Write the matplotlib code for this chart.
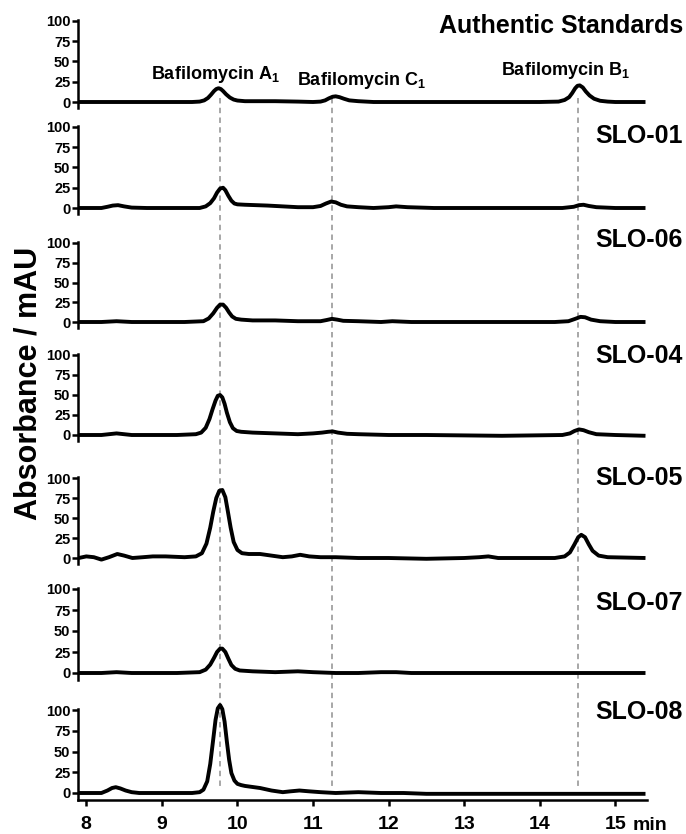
#!/usr/bin/python
"""Stacked HPLC traces: authentic bafilomycin standards vs SLO extracts."""
import matplotlib
matplotlib.use('Agg')
from matplotlib import pyplot as plt

plt.rcParams['font.family'] = ['Liberation Sans', 'DejaVu Sans']
plt.rcParams['font.weight'] = 'bold'
plt.rcParams['mathtext.fontset'] = 'custom'
plt.rcParams['mathtext.rm'] = 'Liberation Sans:bold'
plt.rcParams['mathtext.default'] = 'rm'

# ---- data (time in min, absorbance in mAU) ----
PANEL_NAMES = ['Authentic Standards', 'SLO-01', 'SLO-06', 'SLO-04',
               'SLO-05', 'SLO-07', 'SLO-08']

STD_TIME = [7.9, 8.5, 9.0, 9.4, 9.5, 9.56, 9.61, 9.65, 9.69, 9.72, 9.75, 9.78,
            9.81, 9.85, 9.9, 9.95, 10.0, 10.1, 10.5, 10.8, 11.0, 11.1, 11.16,
            11.21, 11.26, 11.3, 11.35, 11.41, 11.48, 11.6, 11.8, 12.5, 13.2,
            14.0, 14.25, 14.33, 14.39, 14.43, 14.47, 14.5, 14.53, 14.57, 14.61,
            14.66, 14.72, 14.8, 14.9, 15.0, 15.4]
STD_ABS = [0, 0, 0, 0, 0.5, 2, 5, 9, 13.5, 16, 17, 16,
           13.5, 9.5, 5.5, 3, 1.8, 1, 1, 0.5, 0, 0.5, 2,
           4.5, 6.5, 7, 6, 4, 2, 1, 0, 0, 0,
           0, 0.5, 2.5, 6, 11, 17, 20, 20.5, 18, 13,
           8, 4, 1.5, 0.5, 0, 0]

SLO01_TIME = [7.9, 8.2, 8.28, 8.35, 8.42, 8.5, 8.6, 8.8, 9.2, 9.5, 9.58, 9.64,
              9.69, 9.73, 9.77, 9.81, 9.84, 9.88, 9.92, 9.96, 10.0, 10.1, 10.4,
              10.8, 11.0, 11.1, 11.17, 11.24, 11.3, 11.37, 11.45, 11.6, 11.8,
              12.0, 12.1, 12.25, 12.6, 13.5, 14.3, 14.45, 14.52, 14.58, 14.65,
              14.75, 15.0, 15.4]
SLO01_ABS = [0, 0, 1.5, 3, 3.5, 2, 0.5, 0, 0, 0, 2, 6,
             12, 19, 24, 25, 22, 15, 9, 5.5, 4.5, 4, 3,
             1, 1, 2.5, 5.5, 8, 7, 4, 2, 1, 0,
             1, 2, 1, 0, 0, 0, 1.5, 3.5, 4, 2.5,
             1, 0, 0]

SLO06_TIME = [7.9, 8.2, 8.4, 8.6, 9.3, 9.55, 9.62, 9.68, 9.73, 9.77, 9.81,
              9.85, 9.89, 9.93, 9.98, 10.05, 10.2, 10.5, 10.8, 11.1, 11.18,
              11.25, 11.32, 11.4, 11.6, 11.9, 12.05, 12.3, 13.0, 14.2, 14.38,
              14.47, 14.54, 14.6, 14.68, 14.8, 15.0, 15.4]
SLO06_ABS = [0, 0, 1, 0, 0, 1, 4.5, 11, 18, 22, 22, 18,
             12, 7, 4, 3, 2, 2, 1, 1, 2.5,
             4, 3, 1.5, 1, 0, 1, 0, 0, 0, 1,
             4, 6.5, 6, 3, 1, 0, 0]

SLO04_TIME = [7.9, 8.2, 8.4, 8.6, 9.2, 9.45, 9.52, 9.58, 9.63, 9.67, 9.71,
              9.74, 9.77, 9.8, 9.83, 9.86, 9.9, 9.94, 9.99, 10.05, 10.2, 10.5,
              10.8, 11.0, 11.12, 11.2, 11.26, 11.33, 11.45, 11.6, 12.0, 12.5,
              13.5, 14.3, 14.4, 14.46, 14.52, 14.58, 14.65, 14.75, 15.0, 15.4]
SLO04_ABS = [0, 0, 2, 0, 0, 1, 3, 9, 20, 32, 43, 49, 50, 47, 39, 28,
             16, 8.5, 5, 4, 3, 2,
             1, 2, 3, 4, 4.5, 3, 1.5, 1, 0, 0,
             -1, 0, 2, 5, 7, 6, 3.5, 1, 0, -1]

SLO05_TIME = [7.9, 8.0, 8.1, 8.2, 8.3, 8.41, 8.5, 8.61, 8.75, 8.88, 9.05, 9.3,
              9.45, 9.53, 9.59, 9.64, 9.68, 9.72, 9.76, 9.8, 9.84, 9.87, 9.91,
              9.95, 10.0, 10.06, 10.15, 10.3, 10.45, 10.6, 10.72, 10.83, 10.95,
              11.1, 11.3, 11.6, 12.0, 12.5, 13.0, 13.2, 13.32, 13.45, 13.7,
              14.2, 14.33, 14.4, 14.46, 14.51, 14.55, 14.6, 14.65, 14.7, 14.78,
              14.9, 15.4]
SLO05_ABS = [0, 2, 1, -2, 1, 5, 3, 0, 1, 2, 2, 1,
             2, 6, 18, 38, 58, 75, 84, 85, 76, 60, 38,
             20, 10, 6, 5, 5, 3, 1, 2, 4, 2,
             1, 1, 0, 0, -1, 0, 1, 2, 0, 0,
             0, 2, 7, 17, 26, 29, 26, 17, 9, 3,
             1, 0]

SLO07_TIME = [7.9, 8.2, 8.4, 8.6, 9.2, 9.5, 9.58, 9.64, 9.69, 9.73, 9.77,
              9.8, 9.84, 9.88, 9.92, 9.97, 10.03, 10.2, 10.5, 10.8, 11.0,
              11.3, 11.6, 11.9, 12.1, 12.3, 13.0, 14.0, 15.4]
SLO07_ABS = [0, 0, 1, 0, 0, 1, 4, 10, 18, 25, 29, 29, 25, 17, 9.5, 5,
             3, 2, 1, 2, 1,
             0, 0, 1, 1, 0, 0, 0, 0]

SLO08_TIME = [7.9, 8.2, 8.28, 8.34, 8.39, 8.45, 8.52, 8.6, 8.7, 9.0, 9.4, 9.5,
              9.55, 9.6, 9.64, 9.68, 9.71, 9.74, 9.77, 9.8, 9.83, 9.86, 9.89,
              9.92, 9.96, 10.0, 10.05, 10.1, 10.3, 10.45, 10.6, 10.7, 10.82,
              10.95, 11.1, 11.3, 11.6, 11.9, 12.2, 12.5, 13.0, 15.4]
SLO08_ABS = [0, 0, 3, 6, 7, 5.5, 3, 1, 0, 0, 0, 1,
             4, 14, 35, 65, 88, 102, 106, 101, 86, 62, 40,
             24, 15, 11, 9.5, 8.5, 6, 3, 1, 2, 3,
             2, 1, 0, 1, 0, 0, -1, -1, -1]

TRACES = [(STD_TIME, STD_ABS), (SLO01_TIME, SLO01_ABS), (SLO06_TIME, SLO06_ABS),
          (SLO04_TIME, SLO04_ABS), (SLO05_TIME, SLO05_ABS),
          (SLO07_TIME, SLO07_ABS), (SLO08_TIME, SLO08_ABS)]

# retention times of the standards (dashed guides)
STD_NAMES = [r'Bafilomycin A$_1$', r'Bafilomycin C$_1$', r'Bafilomycin B$_1$']
STD_RT = [9.77, 11.25, 14.51]

X_TICKS = [8, 9, 10, 11, 12, 13, 14, 15]
Y_TICKS = [0, 25, 50, 75, 100]

# ---- layout (pixels of the 686x834 output) ----
FIG_W, FIG_H = 686, 834
AX_LEFT, AX_RIGHT = 78, 647
XLIM = (7.89, 15.42)
ZERO_PX = [102, 208, 322, 435, 558, 673, 793]
HUNDRED_PX = [21, 127, 243, 355, 478, 589, 710]
NAME_Y_PX = [26, 136, 240, 356, 478, 603, 712]
LABEL_POS = [(9.71, 74), (11.64, 80), (14.34, 70)]


def px_box(top_px, bottom_px):
    """Convert a pixel band into a figure-fraction axes rectangle."""
    return [AX_LEFT / FIG_W, 1 - bottom_px / FIG_H,
            (AX_RIGHT - AX_LEFT) / FIG_W, (bottom_px - top_px) / FIG_H]


def main():
    fig = plt.figure(figsize=(FIG_W / 100, FIG_H / 100), dpi=100)

    # Overlay used for the dashed retention-time guides (drawn underneath).
    over = fig.add_axes(px_box(0, FIG_H), zorder=0)
    over.set_xlim(*XLIM)
    over.set_ylim(FIG_H, 0)
    over.axis('off')
    for rt in STD_RT:
        over.plot([rt, rt], [98, 790], color='#a0a0a0', lw=1.3,
                  linestyle=(0, (3.0, 2.4)))

    ymin, ymax = -8, 101
    for i, (name, (t, a)) in enumerate(zip(PANEL_NAMES, TRACES)):
        scale = (ZERO_PX[i] - HUNDRED_PX[i]) / 100.0
        top = ZERO_PX[i] - ymax * scale
        bottom = ZERO_PX[i] - ymin * scale
        ax = fig.add_axes(px_box(top, bottom), zorder=1)
        ax.patch.set_visible(False)
        ax.plot(t, a, color='black', lw=2.8, solid_joinstyle='round',
                solid_capstyle='butt', clip_on=False)
        ax.set_xlim(*XLIM)
        ax.set_ylim(ymin, ymax)
        ax.set_yticks(Y_TICKS)
        ax.tick_params(axis='y', length=4, width=1.8, pad=1.5, labelsize=10.5)
        for s in ['top', 'right']:
            ax.spines[s].set_visible(False)
        ax.spines['left'].set_linewidth(1.8)
        if i == len(PANEL_NAMES) - 1:
            ax.spines['bottom'].set_linewidth(1.8)
            ax.set_xticks(X_TICKS)
            ax.tick_params(axis='x', length=4.5, width=1.8, pad=7.5, labelsize=14)
        else:
            ax.spines['bottom'].set_visible(False)
            ax.set_xticks([])

        fig.text(683 / FIG_W, 1 - NAME_Y_PX[i] / FIG_H, name, ha='right',
                 va='center', fontsize=18, fontweight='bold')

    for label, (lx, ly) in zip(STD_NAMES, LABEL_POS):
        over.text(lx, ly, label, ha='center', va='center', fontsize=13,
                  fontweight='bold')

    fig.text(633 / FIG_W, 1 - 826 / FIG_H, 'min', ha='left', va='center',
             fontsize=14, fontweight='bold')
    fig.text(29 / FIG_W, 1 - 383 / FIG_H, 'Absorbance / mAU', rotation=90,
             ha='center', va='center', fontsize=22, fontweight='bold')

    fig.savefig('out.png', dpi=100)


if __name__ == '__main__':
    main()
